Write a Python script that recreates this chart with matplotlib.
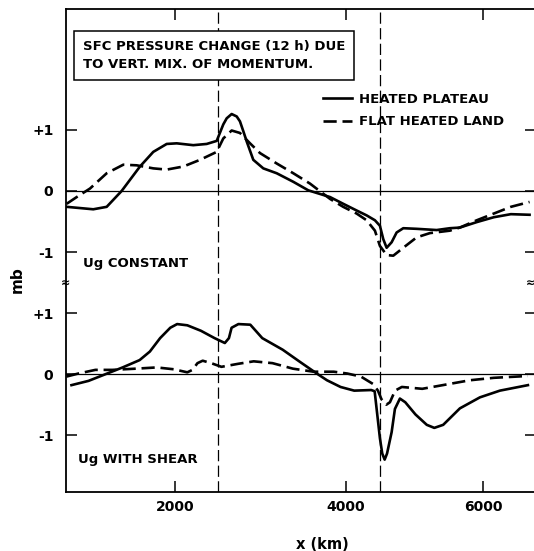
import numpy as np
import matplotlib
matplotlib.use("Agg")
import matplotlib.pyplot as plt
from matplotlib.transforms import blended_transform_factory

# upper panel: Ug constant (mb)
UP_X_PLATEAU = [733, 1044, 1201, 1376, 1590, 1746, 1903, 2020, 2214, 2371, 2488, 2565,
                2605, 2663, 2722, 2760, 2799, 2839, 2916, 3033, 3190, 3384, 3560, 3814,
                3968, 4156, 4302, 4423, 4496, 4545, 4594, 4667, 4740, 4837, 5032, 5324,
                5518, 5661, 5910, 6159, 6408, 6681]
UP_Y_PLATEAU = [-0.26, -0.30, -0.26, 0.00, 0.40, 0.64, 0.77, 0.78, 0.75, 0.77, 0.82, 1.09,
                1.19, 1.26, 1.22, 1.14, 0.98, 0.81, 0.51, 0.37, 0.29, 0.15, 0.01, -0.10,
                -0.21, -0.32, -0.40, -0.48, -0.57, -0.79, -0.93, -0.84, -0.68, -0.61, -0.62, -0.64,
                -0.61, -0.60, -0.51, -0.43, -0.38, -0.39]
UP_X_FLAT = [733, 850, 1006, 1201, 1395, 1552, 1746, 1903, 2097, 2293, 2488, 2565,
             2663, 2760, 2878, 2995, 3190, 3384, 3580, 3814, 3968, 4156, 4302, 4423,
             4496, 4594, 4691, 4837, 5032, 5226, 5518, 5661, 5910, 6159, 6408, 6681]
UP_Y_FLAT = [-0.21, -0.10, 0.04, 0.29, 0.43, 0.42, 0.37, 0.35, 0.40, 0.51, 0.64, 0.86,
             0.99, 0.95, 0.78, 0.62, 0.45, 0.29, 0.12, -0.13, -0.26, -0.37, -0.48, -0.65,
             -0.90, -1.05, -1.06, -0.93, -0.76, -0.69, -0.65, -0.60, -0.48, -0.37, -0.26, -0.18]

# lower panel: Ug with shear (mb)
LO_X_PLATEAU = [789, 989, 1188, 1387, 1586, 1706, 1826, 1945, 2025, 2144, 2304, 2463,
                2583, 2631, 2662, 2742, 2881, 3021, 3260, 3463, 3659, 3778, 3937, 4120,
                4369, 4419, 4448, 4496, 4530, 4565, 4600, 4667, 4715, 4788, 4866, 5015,
                5180, 5290, 5420, 5664, 5956, 6248, 6657]
LO_Y_PLATEAU = [-0.18, -0.11, 0.00, 0.11, 0.23, 0.37, 0.59, 0.76, 0.82, 0.80, 0.71, 0.59,
                0.51, 0.59, 0.76, 0.82, 0.81, 0.59, 0.40, 0.20, 0.01, -0.10, -0.21, -0.27,
                -0.26, -0.28, -0.57, -1.05, -1.30, -1.40, -1.30, -0.95, -0.57, -0.40, -0.46, -0.66,
                -0.83, -0.88, -0.83, -0.56, -0.38, -0.27, -0.18]
LO_X_FLAT = [729, 869, 1069, 1268, 1546, 1786, 1985, 2144, 2204, 2263, 2324, 2424,
             2543, 2742, 2921, 3141, 3379, 3619, 3858, 4020, 4219, 4394, 4467, 4518,
             4590, 4642, 4717, 4816, 5114, 5413, 5810, 6159, 6657]
LO_Y_FLAT = [-0.04, 0.01, 0.07, 0.07, 0.09, 0.11, 0.08, 0.03, 0.07, 0.18, 0.22, 0.18,
             0.12, 0.17, 0.21, 0.18, 0.09, 0.04, 0.04, 0.01, -0.04, -0.16, -0.27, -0.41,
             -0.50, -0.46, -0.27, -0.21, -0.24, -0.18, -0.10, -0.06, -0.03]

PANEL_SHIFT = -3.0          # lower panel sits 3 mb below the upper one
Y_TICKS = [1, 0, -1]
Y_TICK_LABELS = ["+1", "0", "-1"]
X_TICKS = [2000, 4000, 6000]
X_LIMITS = (725, 6775)
Y_LIMITS = (-4.93, 2.98)
BOUNDARIES_KM = [2500, 4500]

# the original x axis is stretched (finer grid in the middle)
GRID_KM = [-3000, 2000, 4000, 10000]
GRID_POS = [-252.5, 175, 346, 757]


def fwd(x):
    return np.interp(x, GRID_KM, GRID_POS)


def inv(u):
    return np.interp(u, GRID_POS, GRID_KM)


def main():
    plt.rcParams["font.family"] = "DejaVu Sans"
    plt.rcParams["font.weight"] = "bold"
    plt.rcParams["axes.labelweight"] = "bold"

    fig = plt.figure(figsize=(5.34, 5.51), dpi=100)
    ax = fig.add_axes([66 / 534, 59 / 551, 470 / 534, 483 / 551])
    ax.set_xscale("function", functions=(fwd, inv))

    lw = 1.9
    dash = (5, 2.2)
    ax.plot(UP_X_PLATEAU, UP_Y_PLATEAU, color="black", lw=lw,
            solid_joinstyle="round", label="HEATED PLATEAU")
    ax.plot(UP_X_FLAT, UP_Y_FLAT, color="black", lw=lw, dashes=dash,
            label="FLAT HEATED LAND")
    ax.plot(LO_X_PLATEAU, np.array(LO_Y_PLATEAU) + PANEL_SHIFT, color="black", lw=lw,
            solid_joinstyle="round")
    ax.plot(LO_X_FLAT, np.array(LO_Y_FLAT) + PANEL_SHIFT, color="black", lw=lw, dashes=dash)

    ax.axhline(0, color="black", lw=0.9)
    ax.axhline(PANEL_SHIFT, color="black", lw=0.9)
    for xb in BOUNDARIES_KM:
        ax.axvline(xb, color="black", lw=0.9, dashes=(9, 3.5))

    ax.set_xlim(*X_LIMITS)
    ax.set_ylim(*Y_LIMITS)
    ax.set_xticks(X_TICKS)
    ax.set_xticklabels([str(t) for t in X_TICKS])
    ax.set_yticks(Y_TICKS + [t + PANEL_SHIFT for t in Y_TICKS])
    ax.set_yticklabels(Y_TICK_LABELS * 2)
    ax.tick_params(direction="in", length=8, width=1.1, top=True, right=True,
                   labelsize=10)
    ax.tick_params(axis="x", pad=6)
    ax.tick_params(axis="y", pad=9)
    for sp in ax.spines.values():
        sp.set_linewidth(1.3)

    ax.set_xlabel("x (km)", fontsize=10.5)
    ax.xaxis.set_label_coords(0.545, -0.093)
    ax.set_ylabel("mb", fontsize=11)
    ax.yaxis.set_label_coords(-0.087, 0.439)

    ax.text(0.036, 0.936, "SFC PRESSURE CHANGE (12 h) DUE\nTO VERT. MIX. OF MOMENTUM.",
            transform=ax.transAxes, ha="left", va="top", fontsize=9.5, linespacing=1.55,
            bbox=dict(boxstyle="square,pad=0.65", fc="white", ec="black", lw=1.1))
    ax.text(0.036, 0.474, "Ug CONSTANT", transform=ax.transAxes,
            ha="left", va="center", fontsize=9.5)
    ax.text(0.025, 0.068, "Ug WITH SHEAR", transform=ax.transAxes,
            ha="left", va="center", fontsize=9.5)

    # axis break marks between the two panels
    trans = blended_transform_factory(ax.transAxes, ax.transData)
    for xa in (0, 0.988):
        ax.text(xa, PANEL_SHIFT / 2, "\u2248", transform=trans, ha="center",
                va="center", fontsize=8, clip_on=False)

    ax.legend(loc="upper left", bbox_to_anchor=(0.547, 0.826), frameon=False,
              handlelength=2.2, handletextpad=0.55, labelspacing=0.7,
              borderpad=0, borderaxespad=0, fontsize=9.5)

    fig.savefig("out.png", dpi=100)


if __name__ == "__main__":
    main()
